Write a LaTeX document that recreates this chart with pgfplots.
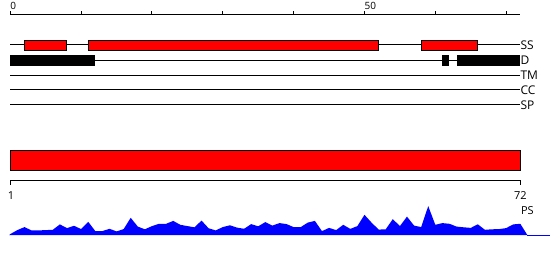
\documentclass[border=0pt]{standalone}
\usepackage{fontspec}
\setmainfont{Open Sans}
\usepackage{pgfplots}
\pgfplotsset{compat=1.18}
\usepackage{pgfplotstable}

% per-residue profile (height above the baseline, px)
\pgfplotstableread{
k h
-0.15 0
0 1
1 5
2 8
3 4.7
4 4.7
5 5
6 5.3
7 10.7
8 7
9 9.3
10 6
11 13.3
12 4
13 4
14 6.3
15 3.7
16 6
17 17.3
18 8.5
19 5.8
20 9
21 11.3
22 11.3
23 14.2
24 10.3
25 9
26 7.8
27 14.5
28 6.8
29 4.7
30 8
31 9.8
32 7.5
33 6.3
34 11
35 8.8
36 13
37 9.5
38 12
39 11
40 8
41 8
42 12.5
43 14.2
44 4
45 7.2
46 5
47 10.3
48 6.2
49 9
50 20.3
51 12.5
52 5.5
53 5.8
54 16
55 9
56 18.5
57 9.5
58 8
59 29
60 10.3
61 12
62 11.3
63 8.5
64 7.8
65 7.2
66 10.8
67 5.3
68 5.8
69 6
70 7
71 10.7
72 11.3
73 0
}\pstable

\begin{document}
\begin{tikzpicture}
\begin{axis}[
  scale only axis, width=550pt, height=260pt,
  xmin=-1.4528, xmax=76.1213, ymin=0, ymax=260,
  hide axis, clip=false, enlargelimits=false,
]
% extent
\addplot[draw=none, forget plot] coordinates {(-1.4528,0) (76.1213,260)};

% top ruler
\addplot[black, line width=1pt] coordinates {(0,245) (72,245)};
\addplot[black, line width=1pt, unbounded coords=jump] coordinates {
 (0,245) (0,249.3) (0,nan)
 (10,245) (10,249.3) (10,nan)
 (20,245) (20,249.3) (20,nan)
 (30,245) (30,249.3) (30,nan)
 (40,245) (40,249.3) (40,nan)
 (50,245) (50,249.3) (50,nan)
 (60,245) (60,249.3) (60,nan)
 (70,245) (70,249.3)};
\node[anchor=west, inner sep=0pt, font=\fontsize{10}{12}\selectfont] at (axis cs:0,253.7) {0};
\node[anchor=west, inner sep=0pt, font=\fontsize{10}{12}\selectfont] at (axis cs:50,253.7) {50};

% tracks
\addplot[black, line width=1pt] coordinates {(0,215) (72,215)};
\addplot[black, line width=1pt] coordinates {(0,199.7) (72,199.7)};
\addplot[black, line width=1pt] coordinates {(0,184.7) (72,184.7)};
\addplot[black, line width=1pt] coordinates {(0,170) (72,170)};
\addplot[black, line width=1pt] coordinates {(0,155) (72,155)};

% SS boxes
\addplot[fill=red, draw=black, line width=1pt] coordinates {(2,209.7) (8,209.7) (8,219.7) (2,219.7)} -- cycle;
\addplot[fill=red, draw=black, line width=1pt] coordinates {(11,209.7) (52,209.7) (52,219.7) (11,219.7)} -- cycle;
\addplot[fill=red, draw=black, line width=1pt] coordinates {(58,209.7) (66,209.7) (66,219.7) (58,219.7)} -- cycle;

% D boxes
\addplot[fill=black, draw=none] coordinates {(0,194.3) (12,194.3) (12,204.7) (0,204.7)} -- cycle;
\addplot[fill=black, draw=none] coordinates {(61,194.3) (62,194.3) (62,204.7) (61,204.7)} -- cycle;
\addplot[fill=black, draw=none] coordinates {(63,194.3) (72,194.3) (72,204.7) (63,204.7)} -- cycle;

\begin{scope}[every node/.style={anchor=west, inner sep=0pt, font=\fontsize{12}{14}\selectfont}]
\node at (axis cs:72,215) {SS};
\node at (axis cs:72,199.7) {D};
\node at (axis cs:72,184.7) {TM};
\node at (axis cs:72,170) {CC};
\node at (axis cs:72,155) {SP};
\end{scope}

% PS bar
\addplot[fill=red, draw=black, line width=1pt] coordinates {(0,89.7) (72,89.7) (72,109.7) (0,109.7)} -- cycle;

% bottom ruler
\addplot[black, line width=1pt] coordinates {(0,75) (0,79.7) (72,79.7) (72,75)};
\node[font=\fontsize{11}{13}\selectfont, inner sep=0pt] at (axis cs:0.1,64) {1};
\node[font=\fontsize{11}{13}\selectfont, inner sep=0pt] at (axis cs:72,64) {72};
\node[font=\fontsize{11}{13}\selectfont, inner sep=0pt] at (axis cs:73,49) {PS};

% profile
\addplot[fill=blue, draw=none] table[x=k, y expr=\thisrow{h}+24.7] {\pstable};
\addplot[blue, line width=1pt] coordinates {(73,24.7) (76.1213,24.7)};
\end{axis}
\end{tikzpicture}
\end{document}
